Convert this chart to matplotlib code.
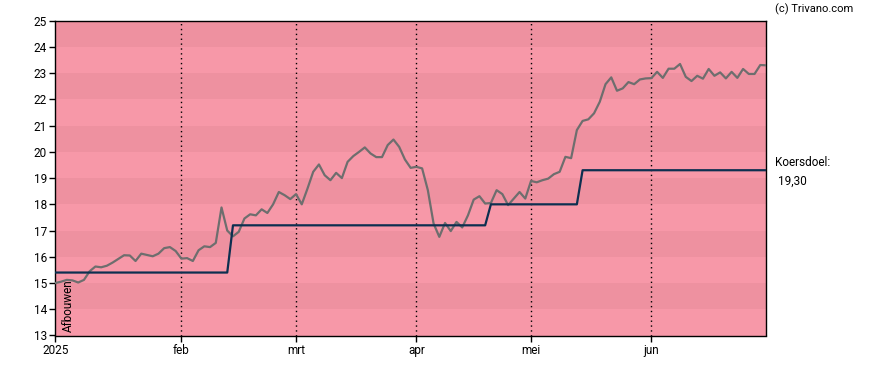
import numpy as np
import matplotlib
matplotlib.use("Agg")
import matplotlib.pyplot as plt

plt.rcParams['font.family'] = ['Roboto', 'DejaVu Sans']

# koers per handelsdag (index 0 = 2 jan 2025)
price = [15.0, 15.05, 15.12, 15.1, 15.02, 15.12, 15.45, 15.63, 15.6, 15.66,
         15.78, 15.92, 16.06, 16.05, 15.84, 16.12, 16.07, 16.02, 16.12, 16.33,
         16.37, 16.22, 15.93, 15.95, 15.84, 16.25, 16.4, 16.37, 16.53, 17.88,
         17.0, 16.78, 16.95, 17.46, 17.62, 17.58, 17.81, 17.67, 18.0, 18.47,
         18.35, 18.2, 18.39, 18.0, 18.6, 19.24, 19.52, 19.11, 18.92, 19.2,
         19.0, 19.62, 19.84, 20.0, 20.17, 19.94, 19.8, 19.8, 20.26, 20.47,
         20.19, 19.71, 19.39, 19.43, 19.37, 18.54, 17.27, 16.76, 17.29, 16.98,
         17.33, 17.12, 17.58, 18.18, 18.31, 18.03, 18.05, 18.54, 18.39, 17.97,
         18.22, 18.47, 18.22, 18.89, 18.84, 18.92, 18.98, 19.15, 19.24, 19.81,
         19.76, 20.83, 21.18, 21.24, 21.47, 21.91, 22.58, 22.84, 22.33, 22.42,
         22.66, 22.58, 22.76, 22.80, 22.81, 23.05, 22.82, 23.17, 23.17, 23.35,
         22.86, 22.70, 22.90, 22.79, 23.16, 22.90, 23.03, 22.80, 23.05, 22.82,
         23.16, 22.97, 22.97, 23.31, 23.30]

# koersdoel (stappen)
target_idx = [0, 30, 31, 75, 76, 91, 92, 124]
target_val = [15.4, 15.4, 17.2, 17.2, 18.0, 18.0, 19.3, 19.3]

month_idx = [0, 22, 42, 63, 83, 104]
month_labels = ["2025", "feb", "mrt", "apr", "mei", "jun"]

fig = plt.figure(figsize=(8.88, 3.70), dpi=100)
ax = fig.add_axes([55.3/888, 1 - 335.5/370, (766 - 55.3)/888, (335.5 - 20.7)/370])

ax.set_facecolor("#F798A8")
for lo in range(14, 25, 2):
    ax.axhspan(lo, lo + 1, color="#EE91A0", lw=0, zorder=0)

for m in month_idx[1:]:
    ax.axvline(m, color="black", lw=1, linestyle=(0, (1, 2.5)), zorder=1)

ax.plot(range(len(price)), price, color="#6E6E6E", lw=1.6, zorder=3)
ax.plot(target_idx, target_val, color="#0D2F50", lw=1.6, zorder=4)

ax.set_xlim(0, 124)
ax.set_ylim(13, 25)
ax.set_yticks(range(13, 26))
ax.set_xticks(month_idx)
ax.set_xticklabels(month_labels)
ax.tick_params(labelsize=8.5, length=4, width=1, colors="black", pad=2)
for s in ax.spines.values():
    s.set_linewidth(1)

ax.text(1.2, 13.15, "Afbouwen", rotation=90, fontsize=8.5, ha="left", va="bottom", zorder=5)

fig.text(775/888, 1 - 9/370, "(c) Trivano.com", fontsize=8, va="center", ha="left")
fig.text(775/888, 1 - 162/370, "Koersdoel:", fontsize=8.5, va="center", ha="left")
fig.text(778/888, 1 - 181/370, "19,30", fontsize=8.5, va="center", ha="left")

fig.savefig("out.png", dpi=100)
